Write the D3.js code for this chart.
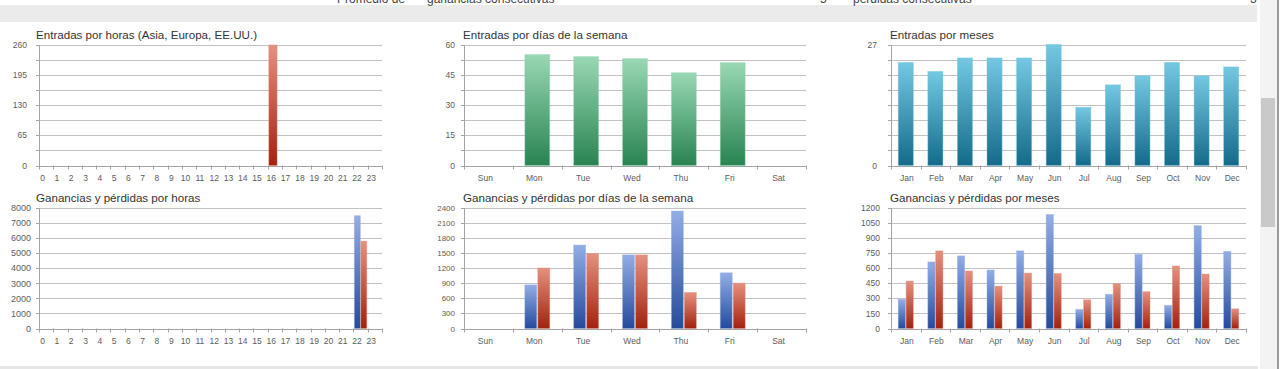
<!DOCTYPE html>
<html>
<head>
<meta charset="utf-8">
<script src="https://cdn.jsdelivr.net/npm/d3@7"></script>
<style>
  html, body { margin: 0; padding: 0; background: #fff; }
  svg { display: block; font-family: "Liberation Sans", Arial, sans-serif; }
  .title { font-size: 11.6px; fill: #333; }
  .lbl { fill: #5c5c5c; }
</style>
</head>
<body>
<div id="chart"></div>
<script>
// categories
var horas = ["0","1","2","3","4","5","6","7","8","9","10","11","12","13","14","15","16","17","18","19","20","21","22","23"];
var dias = ["Sun", "Mon", "Tue", "Wed", "Thu", "Fri", "Sat"];
var meses = ["Jan", "Feb", "Mar", "Apr", "May", "Jun", "Jul", "Aug", "Sep", "Oct", "Nov", "Dec"];

// entradas (trades)
var entradasHoras = [0,0,0,0,0,0,0,0,0,0,0,0,0,0,0,0,259,0,0,0,0,0,0,0];
var entradasDias = [0, 55, 54, 53, 46, 51, 0];
var entradasMeses = [23, 21, 24, 24, 24, 27, 13, 18, 20, 23, 20, 22];

// ganancias / perdidas
var gananciasHoras = [0,0,0,0,0,0,0,0,0,0,0,0,0,0,0,0,0,0,0,0,0,0,7460,0];
var perdidasHoras  = [0,0,0,0,0,0,0,0,0,0,0,0,0,0,0,0,0,0,0,0,0,0,5780,0];
var gananciasDias = [0, 865, 1655, 1460, 2330, 1105, 0];
var perdidasDias  = [0, 1200, 1490, 1460, 715, 900, 0];
var gananciasMeses = [290, 660, 720, 580, 770, 1130, 190, 340, 735, 230, 1020, 765];
var perdidasMeses  = [470, 770, 570, 420, 550, 545, 285, 445, 365, 620, 540, 195];

// y axis labels
var ticksEntHoras = [0, 65, 130, 195, 260];
var ticksEntDias = [0, 15, 30, 45, 60];
var ticksEntMeses = [0, 27];
var ticksGpHoras = [0, 1000, 2000, 3000, 4000, 5000, 6000, 7000, 8000];
var ticksGpDias = [0, 300, 600, 900, 1200, 1500, 1800, 2100, 2400];
var ticksGpMeses = [0, 150, 300, 450, 600, 750, 900, 1050, 1200];

const W = 1280, H = 369;

const svg = d3.select("#chart").append("svg")
    .attr("width", W)
    .attr("height", H);

const defs = svg.append("defs");
const grads = {
    red:   ["#e5917f", "#a2220e"],
    blue:  ["#93aee6", "#244a9c"],
    green: ["#99d8b4", "#288351"],
    teal:  ["#74c8e2", "#136a8a"]
};
Object.keys(grads).forEach(function (k) {
    const lg = defs.append("linearGradient")
        .attr("id", "g-" + k)
        .attr("x1", 0).attr("y1", 0).attr("x2", 0).attr("y2", 1);
    lg.append("stop").attr("offset", "0%").attr("stop-color", grads[k][0]);
    lg.append("stop").attr("offset", "100%").attr("stop-color", grads[k][1]);
});

// page chrome: cut-off header strip, scrollbar, bottom border
svg.append("rect").attr("x", 0).attr("y", 5).attr("width", 1257).attr("height", 17).attr("fill", "#ebebeb");
svg.append("rect").attr("x", 0).attr("y", 366).attr("width", 1258).attr("height", 3).attr("fill", "#e6e6e6");
[["Promedio de", 337], ["ganancias consecutivas", 427], ["5", 820], ["pérdidas consecutivas", 853], ["3", 1250]]
    .forEach(function (t) {
        svg.append("text").attr("x", t[1]).attr("y", 2.5).attr("font-size", 12).attr("fill", "#444").text(t[0]);
    });
svg.append("rect").attr("x", 1260).attr("y", 0).attr("width", 17).attr("height", H).attr("fill", "#f3f3f3");
svg.append("rect").attr("x", 1261).attr("y", 98).attr("width", 14).attr("height", 129).attr("fill", "#c9c9c9");
svg.append("rect").attr("x", 1277).attr("y", 0).attr("width", 2).attr("height", H).attr("fill", "#9a9a9a");

const panels = [
    { title: "Entradas por horas (Asia, Europa, EE.UU.)", cats: horas, series: [entradasHoras], colors: ["red"],
      max: 260, labels: ticksEntHoras, x0: 39, x1: 382, y0: 44.5, y1: 165.5, tx: 36, ty: 39, pad: 0, single: true,
      yfs: 8.5, lgap: 12, xoff: -3.5 },
    { title: "Entradas por días de la semana", cats: dias, series: [entradasDias], colors: ["green"],
      max: 60, labels: ticksEntDias, x0: 464, x1: 806, y0: 44.5, y1: 165.5, tx: 463, ty: 39, pad: 0.49,
      yfs: 8.5, lgap: 9, xoff: -3 },
    { title: "Entradas por meses", cats: meses, series: [entradasMeses], colors: ["teal"],
      max: 27, labels: ticksEntMeses, x0: 891, x1: 1246, y0: 44.5, y1: 165.5, tx: 890, ty: 39, pad: 0.49,
      yfs: 8.5, lgap: 14, xoff: 1 },
    { title: "Ganancias y pérdidas por horas", cats: horas, series: [gananciasHoras, perdidasHoras], colors: ["blue", "red"],
      max: 8000, labels: ticksGpHoras, x0: 39, x1: 382, y0: 207.5, y1: 328.5, tx: 36, ty: 202, pad: 0.13,
      yfs: 9, lgap: 8, xoff: -3.5 },
    { title: "Ganancias y pérdidas por días de la semana", cats: dias, series: [gananciasDias, perdidasDias], colors: ["blue", "red"],
      max: 2400, labels: ticksGpDias, x0: 464, x1: 806, y0: 207.5, y1: 328.5, tx: 463, ty: 202, pad: 0.49,
      yfs: 8, lgap: 9, xoff: -3 },
    { title: "Ganancias y pérdidas por meses", cats: meses, series: [gananciasMeses, perdidasMeses], colors: ["blue", "red"],
      max: 1200, labels: ticksGpMeses, x0: 891, x1: 1246, y0: 207.5, y1: 328.5, tx: 890, ty: 202, pad: 0.49,
      yfs: 8.5, lgap: 11, xoff: 1 }
];

panels.forEach(drawPanel);

function drawPanel(p) {
    const g = svg.append("g");

    const x = d3.scaleBand().domain(p.cats).range([p.x0, p.x1]);
    const y = d3.scaleLinear().domain([0, p.max]).range([p.y1, p.y0]);
    const grid = d3.range(9).map(i => p.max * i / 8);

    // gridlines + y labels
    const gy = g.append("g")
        .attr("transform", `translate(${p.x0},0)`)
        .call(d3.axisLeft(y)
            .tickValues(grid)
            .tickSize(-(p.x1 - p.x0))
            .tickPadding(p.lgap)
            .tickFormat(v => p.labels.indexOf(v) >= 0 ? v : ""));
    gy.select(".domain").remove();
    gy.selectAll(".tick line").attr("stroke", "#c2c2c2").attr("shape-rendering", "crispEdges");
    gy.selectAll(".tick text").attr("class", "lbl").attr("font-size", p.yfs)
        .attr("font-family", "Liberation Sans, Arial, sans-serif");

    // small outside ticks on the value axis
    const gt = g.append("g")
        .attr("transform", `translate(${p.x0},0)`)
        .call(d3.axisLeft(y).tickValues(grid).tickSize(3).tickFormat(""));
    gt.selectAll("line, path").attr("stroke", "#a4a4a4").attr("shape-rendering", "crispEdges");

    // category axis
    const gx = g.append("g")
        .attr("transform", `translate(0,${p.y1})`)
        .call(d3.axisBottom(x).tickSize(0).tickPadding(9));
    gx.select(".domain").attr("stroke", "#a4a4a4").attr("shape-rendering", "crispEdges");
    gx.selectAll(".tick text").attr("class", "lbl").attr("font-size", 8.5)
        .attr("dx", p.xoff)
        .attr("font-family", "Liberation Sans, Arial, sans-serif");

    // band boundary ticks
    const bounds = p.cats.map(c => x(c)).concat([p.x1]);
    g.selectAll(".btick")
        .data(bounds)
        .enter()
        .append("line")
        .attr("x1", d => Math.round(d) + 0.5)
        .attr("x2", d => Math.round(d) + 0.5)
        .attr("y1", p.y1)
        .attr("y2", p.y1 + 4)
        .attr("stroke", "#a4a4a4");

    // title
    g.append("text")
        .attr("class", "title")
        .attr("x", p.tx)
        .attr("y", p.ty)
        .text(p.title);

    // bars
    const inner = d3.scaleBand()
        .domain(p.series.map((s, i) => i))
        .range([0, x.bandwidth() * (1 - p.pad)])
        .paddingInner(p.series.length > 1 ? 0.08 : 0);
    const shift = p.single ? x.bandwidth() * 0.08 : x.bandwidth() * p.pad / 2;
    const bw = p.single ? x.bandwidth() * 0.58 : inner.bandwidth();

    p.series.forEach(function (s, si) {
        g.selectAll(".bar" + si)
            .data(s.map((v, i) => ({ cat: p.cats[i], value: v })).filter(d => d.value > 0))
            .enter()
            .append("rect")
            .attr("x", d => x(d.cat) + shift + inner(si))
            .attr("y", d => y(d.value))
            .attr("width", bw)
            .attr("height", d => y(0) - y(d.value))
            .attr("fill", "url(#g-" + p.colors[si] + ")")
            .attr("stroke", grads[p.colors[si]][0])
            .attr("stroke-opacity", 0.5)
            .attr("stroke-width", 0.8);
    });
}
</script>
</body>
</html>
